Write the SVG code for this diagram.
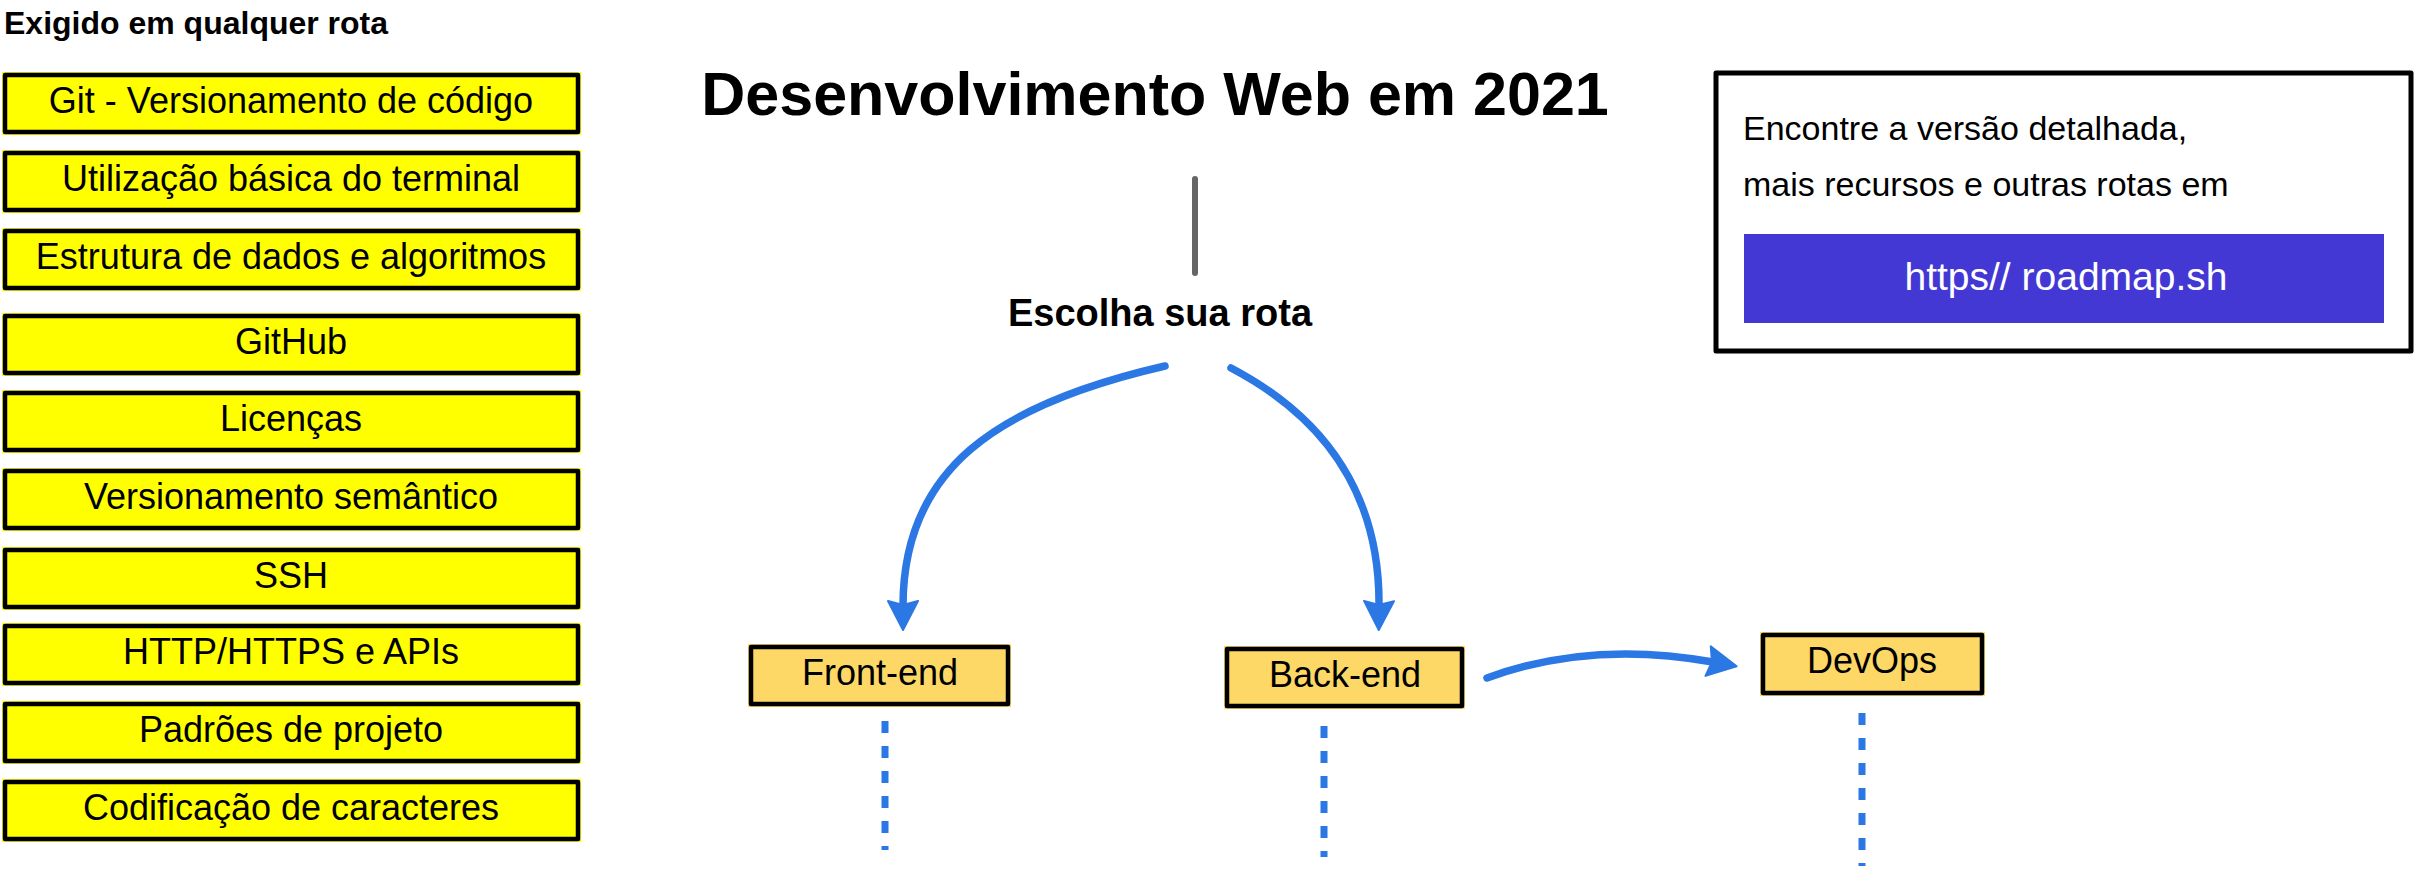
<svg xmlns="http://www.w3.org/2000/svg" width="2414" height="872" viewBox="0 0 2414 872">
<style>
.bg{fill:#ffffff}
.ybox{fill:#ffff00}
.obox{fill:#fdd866}
.bord{fill:none;stroke:#000000;stroke-width:4.5;stroke-linejoin:round}
.t{font-family:"Liberation Sans",Arial,sans-serif;font-size:36px;fill:#000000;text-anchor:middle}
.hdr{font-family:"Liberation Sans",Arial,sans-serif;font-weight:bold;fill:#000000}
.info{font-family:"Liberation Sans",Arial,sans-serif;font-size:34px;fill:#000000}
.conn{fill:none;stroke:#2b78e4;stroke-width:7.5;stroke-linecap:round}
.dash{fill:none;stroke:#2b78e4;stroke-width:7;stroke-dasharray:12 13}
</style>
<defs>
<marker id="ah" markerUnits="userSpaceOnUse" viewBox="-8 -18 34 36" refX="0" refY="0" markerWidth="34" markerHeight="36" orient="auto">
<path d="M24,0 L-5,-15 L-1,0 L-5,15 Z" fill="#2b78e4" stroke="#2b78e4" stroke-width="2" stroke-linejoin="round"/>
</marker>
</defs>
<rect class="bg" x="0" y="0" width="2414" height="872"/>

<g id="header">
<text class="hdr" x="4" y="34" font-size="32">Exigido em qualquer rota</text>
</g>

<g id="n-git"><rect class="ybox" x="2" y="72" width="579" height="63"/><rect class="bord" x="5" y="75" width="573" height="57"/><text class="t" x="291" y="113">Git - Versionamento de código</text></g>
<g id="n-terminal"><rect class="ybox" x="2" y="150" width="579" height="63"/><rect class="bord" x="5" y="153" width="573" height="57"/><text class="t" x="291" y="191">Utilização básica do terminal</text></g>
<g id="n-estrutura"><rect class="ybox" x="2" y="228" width="579" height="63"/><rect class="bord" x="5" y="231" width="573" height="57"/><text class="t" x="291" y="269">Estrutura de dados e algoritmos</text></g>
<g id="n-github"><rect class="ybox" x="2" y="313" width="579" height="63"/><rect class="bord" x="5" y="316" width="573" height="57"/><text class="t" x="291" y="354">GitHub</text></g>
<g id="n-licencas"><rect class="ybox" x="2" y="390" width="579" height="63"/><rect class="bord" x="5" y="393" width="573" height="57"/><text class="t" x="291" y="431">Licenças</text></g>
<g id="n-semver"><rect class="ybox" x="2" y="468" width="579" height="63"/><rect class="bord" x="5" y="471" width="573" height="57"/><text class="t" x="291" y="509">Versionamento semântico</text></g>
<g id="n-ssh"><rect class="ybox" x="2" y="547" width="579" height="63"/><rect class="bord" x="5" y="550" width="573" height="57"/><text class="t" x="291" y="588">SSH</text></g>
<g id="n-http"><rect class="ybox" x="2" y="623" width="579" height="63"/><rect class="bord" x="5" y="626" width="573" height="57"/><text class="t" x="291" y="664">HTTP/HTTPS e APIs</text></g>
<g id="n-padroes"><rect class="ybox" x="2" y="701" width="579" height="63"/><rect class="bord" x="5" y="704" width="573" height="57"/><text class="t" x="291" y="742">Padrões de projeto</text></g>
<g id="n-codificacao"><rect class="ybox" x="2" y="779" width="579" height="63"/><rect class="bord" x="5" y="782" width="573" height="57"/><text class="t" x="291" y="820">Codificação de caracteres</text></g>

<g id="title">
<text class="hdr" x="1155" y="115" font-size="61" text-anchor="middle">Desenvolvimento Web em 2021</text>
</g>

<g id="n-escolha">
<text class="hdr" x="1160" y="326" font-size="38" text-anchor="middle">Escolha sua rota</text>
</g>

<g id="info-box">
<rect x="1716" y="73" width="695" height="278" fill="#ffffff" stroke="#000000" stroke-width="5" stroke-linejoin="round"/>
<text class="info" x="1743" y="140">Encontre a versão detalhada,</text>
<text class="info" x="1743" y="196">mais recursos e outras rotas em</text>
<rect x="1744" y="234" width="640" height="89" fill="#4338d4"/>
<text x="2066" y="290" font-family="'Liberation Sans',Arial,sans-serif" font-size="39" fill="#ffffff" text-anchor="middle">https// roadmap.sh</text>
</g>

<g id="n-frontend"><rect class="obox" x="748" y="644" width="263" height="63"/><rect class="bord" x="751" y="647" width="257" height="57"/><text class="t" x="880" y="685">Front-end</text></g>
<g id="n-backend"><rect class="obox" x="1224" y="646" width="241" height="63"/><rect class="bord" x="1227" y="649" width="235" height="57"/><text class="t" x="1345" y="687">Back-end</text></g>
<g id="n-devops"><rect class="obox" x="1760" y="632" width="225" height="64"/><rect class="bord" x="1763" y="635" width="219" height="58"/><text class="t" x="1872" y="673">DevOps</text></g>

<g id="connectors">
<line x1="1195" y1="179" x2="1195" y2="273" stroke="#666666" stroke-width="6" stroke-linecap="round"/>
<path class="conn" d="M1165,366 C995,405 903,470 903,606" marker-end="url(#ah)"/>
<path class="conn" d="M1231,368 C1330,420 1380,500 1379,606" marker-end="url(#ah)"/>
<path class="conn" d="M1487,678 Q1590,640 1713,662" marker-end="url(#ah)"/>
<line class="dash" x1="885" y1="721" x2="885" y2="850"/>
<line class="dash" x1="1324" y1="726" x2="1324" y2="857"/>
<line class="dash" x1="1862" y1="713" x2="1862" y2="866"/>
</g>
</svg>
